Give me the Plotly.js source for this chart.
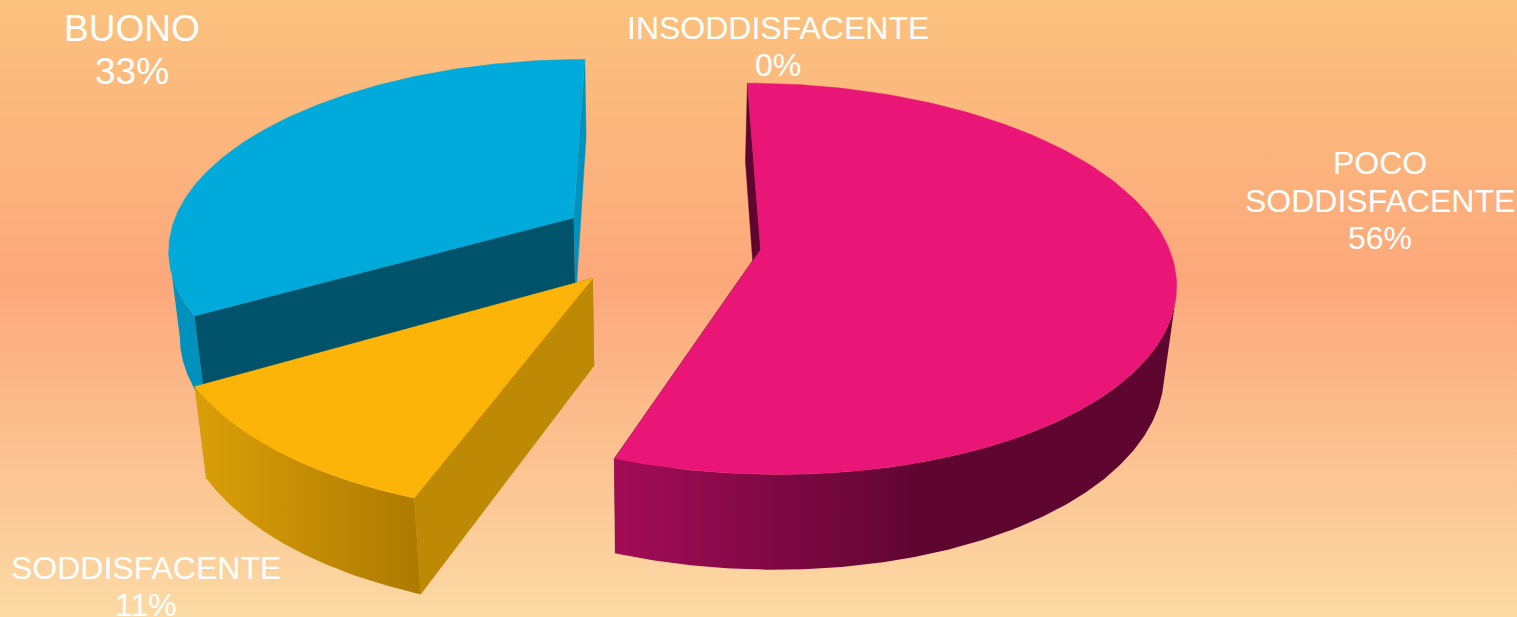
<!DOCTYPE html>
<html>
<head>
<meta charset="utf-8">
<script src="https://cdn.plot.ly/plotly-3.0.1.min.js"></script>
<style>
html,body{margin:0;padding:0;width:1517px;height:617px;overflow:hidden;
background:linear-gradient(180deg,#FBC27E 0px,#FCA87B 282px,#FBDAA4 617px);}
#chart{width:1517px;height:617px;}
</style>
</head>
<body>
<div id="chart"></div>
<script>
// Data (3 + 1 + 5 responses give 33 / 11 / 56 %)
const categories = ["INSODDISFACENTE", "POCO SODDISFACENTE", "SODDISFACENTE", "BUONO"];
const counts = [0, 5, 1, 3];

// Text layout, one entry per printed line
const labelLines = [
  {cat: 3, lines: ["BUONO"], x: 132, y: 28, size: 37, dy: 43},
  {cat: 0, lines: ["INSODDISFACENTE"], x: 778, y: 28, size: 32, dy: 37},
  {cat: 1, lines: ["POCO", "SODDISFACENTE"], x: 1380, y: 163, size: 32, dy: 37.5},
  {cat: 2, lines: ["SODDISFACENTE"], x: 146, y: 568, size: 32, dy: 37}
];

// Styles
const topColors = {1: "#E91677", 2: "#FDB408", 3: "#00ABDB"};
const startFace = {1: "#5E0530", 2: "#BE8A05", 3: "#00536B"};
const endFace = {1: "#5E0530", 2: "#BE8A05", 3: "#0092BE"};
const wallColors = {
  1: {scale: [[0, "#A30C57"], [0.55, "#5E0530"], [1, "#5E0530"]], start: 613, stop: 1177},
  2: {scale: [[0, "#DBA008"], [1, "#AE7B02"]], start: 192, stop: 417},
  3: {scale: [[0, "#0092BE"], [1, "#0092BE"]], start: 160, stop: 600}
};

// Perspective set-up of the exploded 3-D pie
const VP = {x: 660, y: -1017};       // depth vanishing point
const DOWN = {x: 650, y: 4000};      // vertical vanishing point
const C = {x: 660, y: 241};
const R = 406, K = 0.15, EXPLODE = 0.25, H = 0.0228;
const WALL_FROM = 106, WALL_TO = 260; // part of the rim that faces the viewer

function project(X, Y) {
  const w = 1 + K * Y;
  return [VP.x + (R * X + C.x - VP.x) / w, VP.y + (C.y - VP.y) / w, w];
}
function topPt(X, Y) { const p = project(X, Y); return [p[0], p[1]]; }
function botPt(X, Y) {
  const p = project(X, Y), t = H / p[2];
  return [p[0] + (DOWN.x - p[0]) * t, p[1] + (DOWN.y - p[1]) * t];
}
const rad = d => d * Math.PI / 180;

const total = counts.reduce((a, b) => a + b, 0);
let acc = 0;
const slices = counts.map((v, i) => {
  const a0 = acc; acc += v / total * 360;
  const mid = rad((a0 + acc) / 2);
  return {i, a0, a1: acc, ox: EXPLODE * Math.sin(mid), oy: EXPLODE * Math.cos(mid)};
});

function arc(s, from, to, fn, reverse) {
  const pts = [], n = 160;
  for (let k = 0; k <= n; k++) {
    const a = rad(from + (to - from) * k / n);
    pts.push(fn(s.ox + Math.sin(a), s.oy + Math.cos(a)));
  }
  return reverse ? pts.reverse() : pts;
}
function poly(name, pts, color, grad) {
  const tr = {
    type: "scatter", mode: "lines", name: name, hoverinfo: "skip", showlegend: false,
    x: pts.map(p => p[0]), y: pts.map(p => p[1]), fill: "toself",
    line: {width: 0.5, color: color || grad.scale[grad.scale.length - 1][1]}
  };
  if (grad) {
    tr.fillgradient = {type: "horizontal", colorscale: grad.scale, start: grad.start, stop: grad.stop};
    tr.line.width = 0;
  } else tr.fillcolor = color;
  return tr;
}
function radial(s, angle, color, label) {
  const a = rad(angle), X = s.ox + Math.sin(a), Y = s.oy + Math.cos(a);
  return poly(label, [topPt(s.ox, s.oy), topPt(X, Y), botPt(X, Y), botPt(s.ox, s.oy)], color);
}

const traces = [];
// painter's order: back slice first, then pink, then the front yellow slice
[3, 1, 2].forEach(i => {
  const s = slices[i], name = categories[i];
  traces.push(radial(s, s.a1, endFace[i], name + " face B"));
  traces.push(radial(s, s.a0, startFace[i], name + " face A"));
  const from = Math.max(s.a0, WALL_FROM), to = Math.min(s.a1, WALL_TO);
  traces.push(poly(name + " wall", arc(s, from, to, topPt, false).concat(arc(s, from, to, botPt, true)), null, wallColors[i]));
  traces.push(poly(name, [topPt(s.ox, s.oy)].concat(arc(s, s.a0, s.a1, topPt, false)), topColors[i]));
});

const annotations = [];
labelLines.forEach(l => {
  const pct = Math.round(counts[l.cat] / total * 100) + "%";
  l.lines.concat([pct]).forEach((t, j) => annotations.push({
    text: t, x: l.x, y: l.y + j * l.dy, xref: "x", yref: "y", showarrow: false,
    xanchor: "center", yanchor: "middle",
    font: {family: "Liberation Sans, Arial, sans-serif", size: l.size, color: "#FFFFFF"}
  }));
});

Plotly.newPlot("chart", traces, {
  width: 1517, height: 617,
  margin: {l: 0, r: 0, t: 0, b: 0},
  paper_bgcolor: "rgba(0,0,0,0)", plot_bgcolor: "rgba(0,0,0,0)",
  showlegend: false,
  xaxis: {range: [0, 1517], visible: false, fixedrange: true},
  yaxis: {range: [617, 0], visible: false, fixedrange: true},
  annotations: annotations
}, {displayModeBar: false, staticPlot: true});
</script>
</body>
</html>
